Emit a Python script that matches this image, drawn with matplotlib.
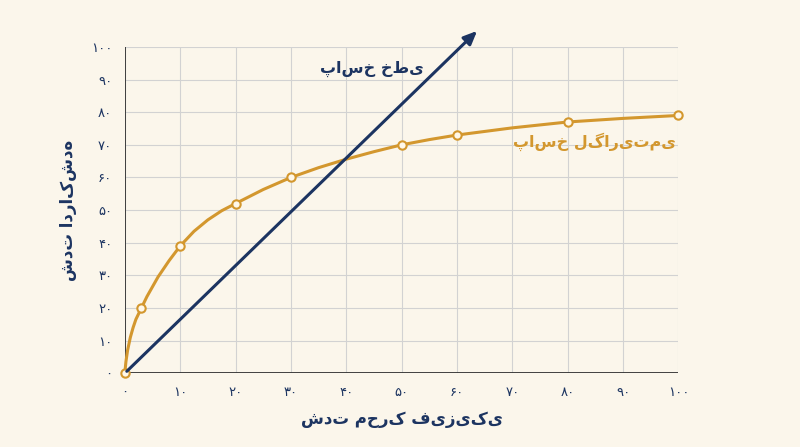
import matplotlib.pyplot as plt
import numpy as np

plt.rcParams['font.family'] = ['DejaVu Sans']

# data
fa_digits = str.maketrans('0123456789', '۰۱۲۳۴۵۶۷۸۹')
ticks = list(range(0, 101, 10))
tick_labels = [str(t).translate(fa_digits) for t in ticks]

log_x = [0, 3, 10, 20, 30, 50, 60, 80, 100]
log_y = [0, 20, 39, 52, 60, 70, 73, 77, 79]
curve_x = [0, 0.2, 0.5, 1, 1.5, 2, 3, 4, 5, 6, 8, 10, 12.5, 15, 17.5, 20, 25, 30,
           35, 40, 45, 50, 55, 60, 70, 80, 90, 100]
curve_y = [0, 3.5, 7, 11, 14, 16.5, 20, 23.5, 26.5, 29.5, 34.5, 39, 43.5, 47, 49.8,
           52, 56.3, 60, 63, 65.6, 67.9, 70, 71.6, 73, 75.2, 77, 78.1, 79]
lin_x = [0, 64]
lin_y = [0, 105.5]

navy = '#1c3461'
gold = '#d3972e'
bg = '#fbf6eb'

fig = plt.figure(figsize=(8, 4.47), dpi=100, facecolor=bg)
ax = fig.add_axes([0.156, 0.165, 0.692, 0.73])
ax.set_facecolor(bg)
ax.set_xlim(0, 100)
ax.set_ylim(0, 100)
ax.set_xticks(ticks)
ax.set_yticks(ticks)
ax.set_xticklabels(tick_labels, color=navy, fontsize=9.5)
ax.set_yticklabels(tick_labels, color=navy, fontsize=9.5)
ax.grid(color='#d2d2d2', linewidth=0.8)
ax.tick_params(length=0, pad=9)
for s in ax.spines.values():
    s.set_visible(False)
ax.axhline(0, color='#333333', linewidth=1.3, zorder=3)
ax.axvline(0, color='#333333', linewidth=1.3, zorder=3)

ax.plot(curve_x, curve_y, color=gold, linewidth=2.2, zorder=4, clip_on=False,
        solid_joinstyle='round')
ax.plot(log_x, log_y, 'o', color=gold, markerfacecolor='#fff8ea',
        markersize=6, markeredgewidth=1.5, zorder=5, clip_on=False)

ax.annotate('', xy=(lin_x[1], lin_y[1]), xytext=(lin_x[0], lin_y[0]),
            arrowprops=dict(arrowstyle='-|>,head_length=0.8,head_width=0.35',
                            color=navy, lw=2.2), annotation_clip=False, zorder=6)

ax.text(54, 92, 'پاسخ خطی', color=navy, fontsize=11.5, fontweight='bold', ha='right')
ax.text(99.5, 69.5, 'پاسخ لگاریتمی', color=gold, fontsize=11.5, fontweight='bold', ha='right')
ax.set_xlabel('شدت محرک فیزیکی', color=navy, fontsize=12, fontweight='bold', labelpad=8)
ax.set_ylabel('شدت ادراک‌شده', color=navy, fontsize=12, fontweight='bold', labelpad=10)

fig.savefig('out.png', dpi=100, facecolor=bg)
